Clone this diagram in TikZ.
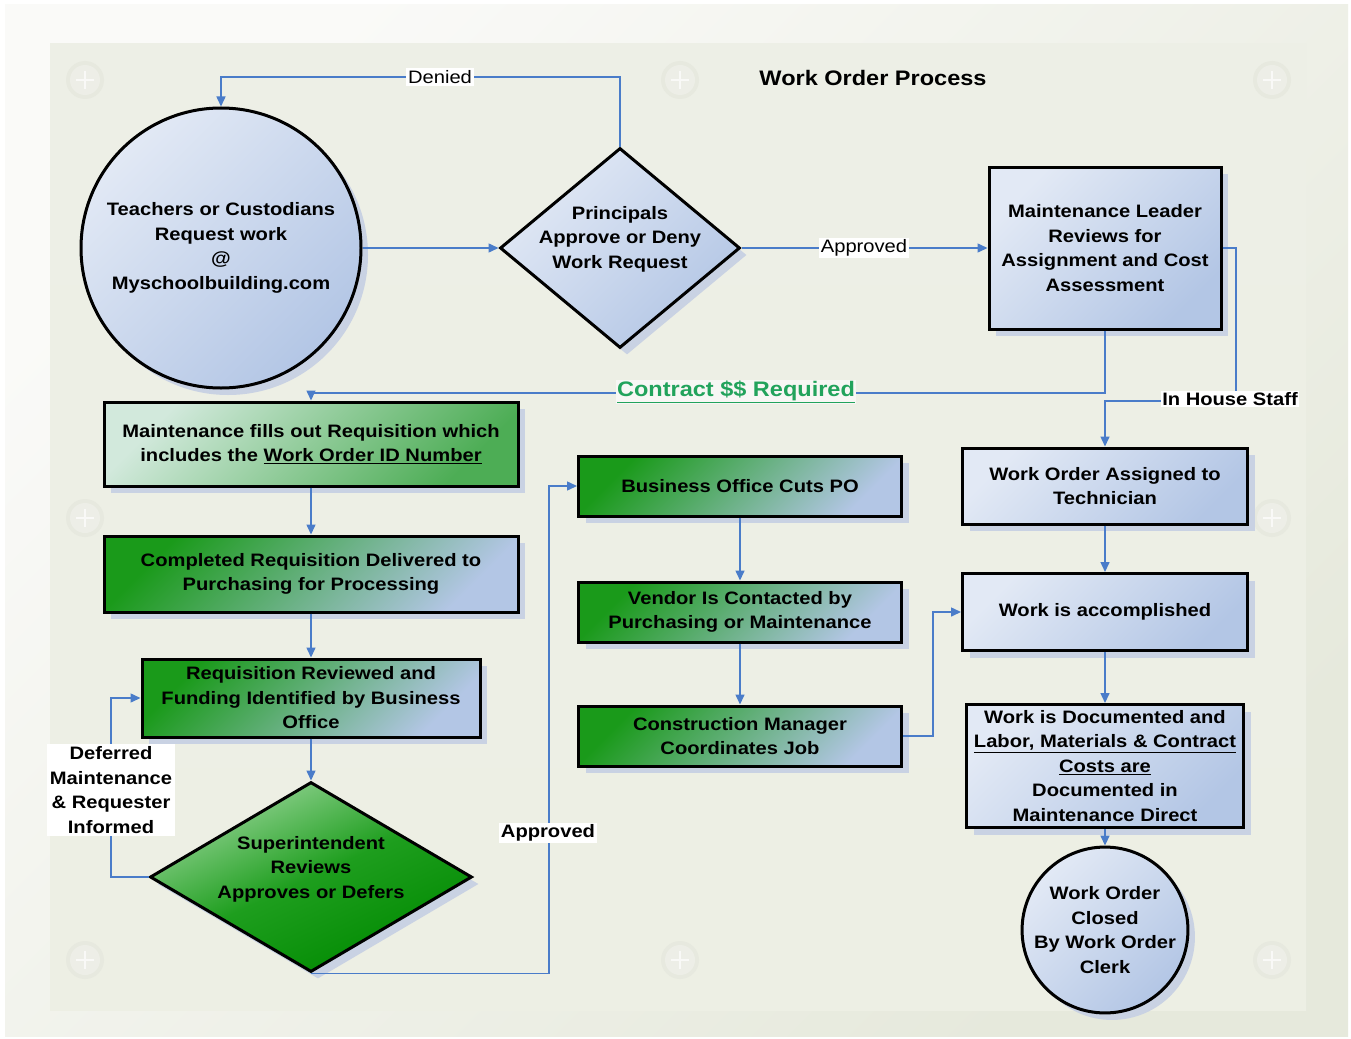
\documentclass[tikz,border=0pt]{standalone}
\usepackage{fontspec}
\setmainfont{Liberation Sans}[FakeStretch=1.12]
\usetikzlibrary{shapes.geometric,arrows.meta,shadows}
\definecolor{blueA}{HTML}{E2E9F5}
\definecolor{blueB}{HTML}{B3C6E5}
\definecolor{greenA}{HTML}{1A9A1A}
\definecolor{greenPale}{HTML}{D2E9DC}
\definecolor{greenMid}{HTML}{4DAD55}
\definecolor{supA}{HTML}{9AD69A}
\definecolor{supM}{HTML}{1E9E1E}
\definecolor{supB}{HTML}{008A00}
\definecolor{shadowc}{HTML}{C9D2E3}
\definecolor{linec}{HTML}{4A7CC9}
\definecolor{contrc}{HTML}{22A35C}
\definecolor{outerA}{HTML}{FAFAF8}
\definecolor{outerB}{HTML}{E6E9DC}
\definecolor{panelA}{HTML}{EDEFE6}
\definecolor{panelM}{HTML}{F7F7F4}
\definecolor{panelB}{HTML}{EDEFE4}
\definecolor{decoc}{HTML}{E7E9DF}
\newcommand\nodefont{\bfseries\fontsize{18}{24.5}\selectfont}
\newcommand\lblfont{\fontsize{18}{22}\selectfont}
\tikzset{
  shape base/.style={line width=3pt, draw=black, inner sep=2pt, align=center, font=\nodefont,
    general shadow={fill=shadowc, shadow xshift=7pt, shadow yshift=-7pt}},
  bluefill/.style={shading=axis, top color=blueA, bottom color=blueB, shading angle=45},
  greenfill/.style={shading=axis, top color=greenA, bottom color=blueB, shading angle=45},
  bluebox/.style={shape base, bluefill, rectangle},
  greenbox/.style={shape base, greenfill, rectangle},
  conn/.style={draw=linec, line width=1.5pt, -{Triangle[length=10pt,width=9pt]}},
  lbl/.style={fill=white, inner sep=2pt, font=\lblfont},
  blbl/.style={fill=white, inner sep=2pt, font=\nodefont, align=center},
  txtonly/.style={align=center, font=\nodefont, inner sep=0pt}
}
\begin{document}
\begin{tikzpicture}[x=1pt,y=-1pt]
% background
\useasboundingbox (0,0) rectangle (1351,1038);
\fill[white] (0,0) rectangle (1351,1038);
\shade[shading=axis, top color=outerA, bottom color=outerB, shading angle=45] (5,5) rectangle (1348,1036);
\shade[top color=panelA, middle color=panelM, bottom color=panelB] (50,44) rectangle (1306,1010);
% decorative connection points
\foreach \cx/\cy in {85/80, 680/80, 1272/80, 85/518, 1272/518, 85/960, 680/960, 1272/960}{
  \fill[decoc] (\cx,\cy) circle[radius=19pt];
  \fill[white, opacity=0.25] (\cx,\cy) circle[radius=15pt];
  \draw[white, opacity=0.7, line width=1.2pt] (\cx-9,\cy) -- (\cx+9,\cy) (\cx,\cy-9) -- (\cx,\cy+9);
}
% title
\node[font=\bfseries\fontsize{21}{24}\selectfont] (title) at (873,78) {Work Order Process};
% nodes
\node[shape base, bluefill, circle, minimum size=280pt, inner sep=0pt] (teach) at (221,248)
  {Teachers or Custodians\\Request work\\@\\Myschoolbuilding.com};
\node[shape base, bluefill, diamond, minimum width=240pt, minimum height=200pt, inner sep=0pt] (princ) at (620,248) {};
\node[txtonly] (princt) at (620,239) {Principals\\Approve or Deny\\Work Request};
\node[bluebox, minimum width=232pt, minimum height=162pt] (mlead) at (1105,248)
  {Maintenance Leader\\Reviews for\\Assignment and Cost\\Assessment};
\node[shape base, rectangle, shading=axis, top color=greenPale, bottom color=greenMid, shading angle=45,
  minimum width=414pt, minimum height=84pt] (req1) at (311,444)
  {Maintenance fills out Requisition which\\includes the \underline{Work Order ID Number}};
\node[greenbox, minimum width=414pt, minimum height=76pt] (req2) at (311,574)
  {Completed Requisition Delivered to\\Purchasing for Processing};
\node[greenbox, minimum width=338pt, minimum height=78pt, inner sep=0pt] (req3) at (311,698)
  {Requisition Reviewed and\\Funding Identified by Business\\Office};
\node[shape base, diamond, shading=axis, top color=supA, bottom color=supB, middle color=supM, shading angle=25,
  minimum width=322pt, minimum height=190pt, inner sep=0pt] (sup) at (311,877) {};
\node[txtonly] (supt) at (311,869) {Superintendent\\Reviews\\Approves or Defers};
\node[greenbox, minimum width=323pt, minimum height=60pt] (bo) at (740,486) {Business Office Cuts PO};
\node[greenbox, minimum width=323pt, minimum height=60pt] (vend) at (740,612)
  {Vendor Is Contacted by\\Purchasing or Maintenance};
\node[greenbox, minimum width=323pt, minimum height=60pt] (cm) at (740,736)
  {Construction Manager\\Coordinates Job};
\node[bluebox, minimum width=285pt, minimum height=76pt] (woa) at (1105,486)
  {Work Order Assigned to\\Technician};
\node[bluebox, minimum width=285pt, minimum height=77pt] (wia) at (1105,612) {Work is accomplished};
\node[bluebox, minimum width=277pt, minimum height=123pt, inner sep=0pt] (doc) at (1105,766)
  {Work is Documented and\\\underline{Labor, Materials \& Contract}\\\underline{Costs are}\\Documented in\\Maintenance Direct};
\node[shape base, bluefill, circle, minimum size=164pt, inner sep=0pt] (closed) at (1105,930)
  {Work Order\\Closed\\By Work Order\\Clerk};
% helper coordinates
\coordinate (deniedc) at (440,77);
\coordinate (contrc) at (736,393);
\coordinate (inhc) at (1236,401);
\coordinate (defc) at (111,790);
\coordinate (appc) at (549,833);
\coordinate (cmc) at (933,680);
% connectors
\draw[conn] (princ.north) |- (deniedc) -| (teach.north);
\draw[conn] (teach.east) -- (princ.west);
\draw[conn] (princ.east) -- (mlead.west);
\draw[conn] (mlead.south) |- (contrc) -| (req1.north);
\draw[conn] (mlead.east) -| (inhc) -| (woa.north);
\draw[conn] (req1.south) -- (req2.north);
\draw[conn] (req2.south) -- (req3.north);
\draw[conn] (req3.south) -- (sup.north);
\draw[conn] (sup.west) -| (defc) |- (req3.west);
\draw[conn] (sup.south) -| (appc) |- (bo.west);
\draw[conn] (bo.south) -- (vend.north);
\draw[conn] (vend.south) -- (cm.north);
\draw[conn] (cm.east) -| (cmc) |- (wia.west);
\draw[conn] (woa.south) -- (wia.north);
\draw[conn] (wia.south) -- (doc.north);
\draw[conn] (doc.south) -- (closed.north);
% labels
\node[lbl] (deniedl) at (deniedc) {Denied};
\node[lbl] (approvedl) at (864,248) {Approved};
\node[fill=panelM, inner sep=1pt, text=contrc, font=\bfseries\fontsize{21}{25}\selectfont] (contrl) at (736,392) {\underline{Contract \$\$ Required}};
\node[blbl, inner sep=1pt] (inhl) at (1230,399) {In House Staff};
\node[blbl, inner sep=3pt] (defl) at (defc) {Deferred\\Maintenance\\\& Requester\\Informed};
\node[blbl, inner sep=2pt] (appl) at (548,833) {Approved};
\end{tikzpicture}
\end{document}
